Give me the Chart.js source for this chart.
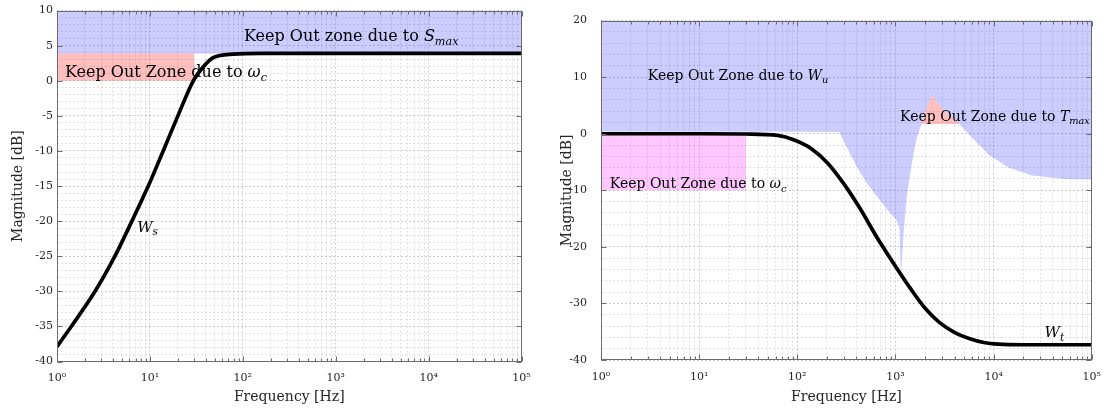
<!DOCTYPE html>
<html>
<head>
<meta charset="utf-8">
<script src="https://cdn.jsdelivr.net/npm/chart.js@4/dist/chart.umd.min.js"></script>
<style>
  body { margin: 0; background: #fff; }
  canvas { position: absolute; top: 0; }
</style>
</head>
<body>
<canvas id="wsChart" width="545" height="414" style="left:0"></canvas>
<canvas id="wtChart" width="567" height="414" style="left:545px"></canvas>
<script>
Chart.defaults.font.family = '"DejaVu Serif", serif'
Chart.defaults.color = '#262626'

// axis ticks
const decades = [1, 10, 100, 1000, 10000, 100000]
const mantissas = [1, 2, 3, 4, 5, 6, 7, 8, 9]
const decadeLabels = ['10⁰', '10¹', '10²', '10³', '10⁴', '10⁵']

// left plot: W_s and its keep out zones
const wsFreq = [1, 2.57, 4.2, 6.4, 9.6, 13.9, 20, 29.3, 37.6, 48, 79, 158, 1000, 100000]
const wsMag = [-37.9, -30, -25, -20, -15, -10, -5, 0, 2.0, 3.3, 3.8, 3.9, 3.9, 3.9]
const sMaxFreq = [1, 100000]
const sMaxMag = [3.9, 3.9]
const wcLeftFreq = [1, 30]
const wcLeftMag = [3.9, 3.9]
const wcLeftFloor = 0

// right plot: W_t and its keep out zones
const wtFreq = [1, 10, 30, 63, 93, 138, 204, 302, 442, 646, 955, 1413, 1995, 2818, 3981, 5623, 7943, 11220, 19950, 100000]
const wtMag = [0, 0, -0.05, -0.3, -1.1, -2.6, -5.2, -9.0, -13.4, -18.3, -22.9, -27.3, -30.8, -33.4, -35.1, -36.2, -36.9, -37.2, -37.3, -37.3]
const wuFreq = [1, 100, 267, 324, 408, 514, 648, 816, 1027, 1100, 1135, 1205, 1303, 1412, 1520, 1644, 1912, 2330, 3050, 4470, 6140, 8930, 14300, 24600, 53500, 100000]
const wuMag = [0.4, 0.35, 0.3, -2.6, -6.0, -8.8, -11.1, -13.3, -15.3, -16.7, -25.5, -17.9, -11.1, -7.1, -3.7, -0.85, 2.6, 6.8, 4.3, 1.7, -0.85, -3.7, -6.0, -7.4, -8.0, -8.1]
const tMaxFreq = [1839, 1912, 2330, 3050, 4470]
const tMaxMag = [1.7, 2.6, 6.8, 4.3, 1.7]
const tMaxLevel = 1.7
const wcRightFreq = [1, 30]
const wcRightMag = [0, 0]
const wcRightFloor = -10

const xTicks = decades.flatMap(d => d === 100000 ? [d] : mantissas.map(m => m * d))

const toPoints = (xs, ys) => xs.map((x, i) => ({ x, y: ys[i] }))

const curve = (xs, ys) => ({
    data: toPoints(xs, ys),
    borderColor: '#000',
    borderWidth: 3.7,
    pointRadius: 0,
    cubicInterpolationMode: 'monotone',
    fill: false
})

const zone = (xs, ys, color, fill) => ({
    data: toPoints(xs, ys),
    borderColor: 'rgba(0,0,0,0)',
    borderWidth: 0,
    backgroundColor: color,
    pointRadius: 0,
    tension: 0,
    fill
})

const xScale = (height, pad) => ({
    type: 'logarithmic',
    min: 1,
    max: 100000,
    afterBuildTicks: s => { s.ticks = xTicks.map(value => ({ value, major: decades.includes(value) })) },
    afterFit: s => { s.height = height },
    ticks: {
        autoSkip: false, maxRotation: 0, padding: pad, font: { size: 11 },
        callback: v => { const i = decades.indexOf(v); return i < 0 ? '' : decadeLabels[i] }
    },
    grid: { color: c => decades.includes(c.tick && c.tick.value) ? 'rgba(0,0,0,0.2)' : 'rgba(0,0,0,0.12)', drawTicks: false },
    border: { display: false, dash: [2, 2] },
    title: { display: true, text: 'Frequency [Hz]', font: { size: 14 }, padding: { top: 0, bottom: 8 } }
})

const yScale = (min, max, step, every, width, pad, titlePad) => ({
    min, max,
    afterFit: s => { s.width = width },
    ticks: {
        stepSize: step, autoSkip: false, padding: pad, font: { size: 11 },
        callback: v => v % every === 0 ? String(v) : ''
    },
    grid: { color: c => (c.tick && c.tick.value % every === 0) ? 'rgba(0,0,0,0.2)' : 'rgba(0,0,0,0.12)', drawTicks: false },
    border: { display: false, dash: [2, 2] },
    title: { display: true, text: 'Magnitude [dB]', font: { size: 14 }, padding: { top: titlePad, bottom: 0 } }
})

// box, inward ticks and the zone notes
const frame = (notes, every) => ({
    id: 'frame',
    afterDatasetsDraw(chart) {
        const { ctx, chartArea: a, scales: { x, y } } = chart
        const L = Math.round(a.left) + 0.5, R = Math.round(a.right) - 0.5
        const T = Math.round(a.top) + 0.5, B = Math.round(a.bottom) - 0.5
        ctx.save()
        ctx.strokeStyle = '#6b6b6b'
        ctx.lineWidth = 1
        ctx.strokeRect(L, T, R - L, B - T)
        ctx.beginPath()
        x.ticks.forEach(t => {
            const px = Math.round(x.getPixelForValue(t.value)) + 0.5
            const len = decades.includes(t.value) ? 5 : 3
            ctx.moveTo(px, B); ctx.lineTo(px, B - len)
            ctx.moveTo(px, T); ctx.lineTo(px, T + len)
        })
        y.ticks.forEach(t => {
            if (t.value % every !== 0) return
            const py = Math.round(y.getPixelForValue(t.value)) + 0.5
            ctx.moveTo(L, py); ctx.lineTo(L + 5, py)
            ctx.moveTo(R, py); ctx.lineTo(R - 5, py)
        })
        ctx.stroke()

        ctx.fillStyle = '#000'
        ctx.textBaseline = 'alphabetic'
        notes.forEach(n => {
            let px = x.getPixelForValue(n.f)
            const py = y.getPixelForValue(n.db)
            n.parts.forEach(([text, style]) => {
                const sub = style === 'sub'
                const size = sub ? n.size * 0.7 : n.size
                ctx.font = `${style ? 'italic ' : ''}${size}px "DejaVu Serif"`
                ctx.fillText(text, px, py + (sub ? n.size * 0.25 : 0))
                px += ctx.measureText(text).width
            })
        })
        ctx.restore()
    }
})

const leftNotes = [
    { f: 103, db: 5.6, size: 16, parts: [['Keep Out zone due to '], ['S', 'it'], ['max', 'sub']] },
    { f: 1.22, db: 0.55, size: 16, parts: [['Keep Out Zone due to '], ['ω', 'it'], ['c', 'sub']] },
    { f: 7.3, db: -21.5, size: 15, parts: [['W', 'it'], ['s', 'sub']] }
]

const rightNotes = [
    { f: 3.0, db: 9.5, size: 14, parts: [['Keep Out Zone due to '], ['W', 'it'], ['u', 'sub']] },
    { f: 1115, db: 2.3, size: 14, parts: [['Keep Out Zone due to '], ['T', 'it'], ['max', 'sub']] },
    { f: 1.23, db: -9.6, size: 14, parts: [['Keep Out Zone due to '], ['ω', 'it'], ['c', 'sub']] },
    { f: 33000, db: -36.0, size: 15, parts: [['W', 'it'], ['t', 'sub']] }
]

const baseOptions = (padding, x, y) => ({
    responsive: false,
    animation: false,
    events: [],
    layout: { padding },
    plugins: { legend: { display: false }, tooltip: { enabled: false } },
    scales: { x, y }
})

new Chart('wsChart', {
    type: 'line',
    data: {
        datasets: [
            curve(wsFreq, wsMag),
            zone(wcLeftFreq, wcLeftMag, 'rgba(255,0,0,0.25)', { value: wcLeftFloor }),
            zone(sMaxFreq, sMaxMag, 'rgba(0,0,255,0.2)', 'end')
        ]
    },
    options: baseOptions({ top: 7, right: 23.5, left: 0, bottom: 0 },
        xScale(52.5, 10), yScale(-40, 10, 1, 5, 57, 4, 10)),
    plugins: [frame(leftNotes, 5)]
})

new Chart('wtChart', {
    type: 'line',
    data: {
        datasets: [
            curve(wtFreq, wtMag),
            zone(tMaxFreq, tMaxMag, 'rgba(255,0,0,0.25)', { value: tMaxLevel }),
            zone(wcRightFreq, wcRightMag, 'rgba(255,0,255,0.22)', { value: wcRightFloor }),
            zone(wuFreq, wuMag, 'rgba(0,0,255,0.2)', 'end')
        ]
    },
    options: baseOptions({ top: 8.5, right: 15, left: 0, bottom: 0 },
        xScale(54, 11), yScale(-40, 20, 2, 10, 56, 14, 14)),
    plugins: [frame(rightNotes, 10)]
})
</script>
</body>
</html>
